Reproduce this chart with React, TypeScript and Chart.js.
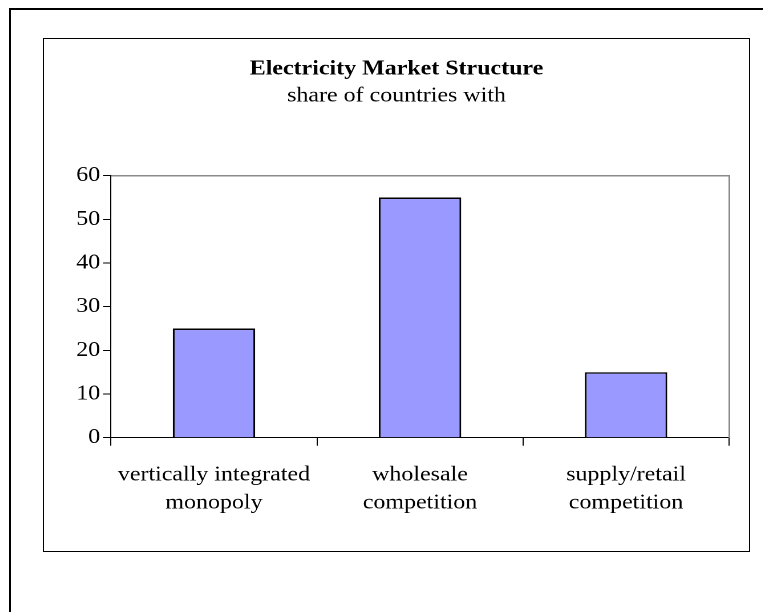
import React, { useEffect, useRef } from "react";
import { Chart, registerables } from "chart.js";

Chart.register(...registerables);

const categories: string[][] = [
  ["vertically integrated", "monopoly"],
  ["wholesale", "competition"],
  ["supply/retail", "competition"],
];
const shares: number[] = [25, 55, 15];
const yMin = 0;
const yMax = 60;
const yStep = 10;
const titleText = "Electricity Market Structure";
const subtitleText = "share of countries with";

const FONT = "'Liberation Serif', 'Times New Roman', Times, serif";
const FS = 21;
const BOX_W = 705;
const BOX_H = 512;
const CANVAS_W = 618;
const CANVAS_H = 512;

export default function App() {
  const ref = useRef<HTMLCanvasElement | null>(null);

  useEffect(() => {
    const canvas = ref.current;
    if (!canvas) return;
    const chart = new Chart(canvas, {
      type: "bar",
      data: {
        labels: categories,
        datasets: [
          {
            data: shares,
            backgroundColor: "#9999FF",
            borderColor: "#000000",
            borderWidth: 1.6,
            categoryPercentage: 1,
            barPercentage: 0.4,
          },
        ],
      },
      options: {
        responsive: false,
        animation: false,
        devicePixelRatio: 2,
        layout: { padding: 0 },
        plugins: {
          legend: { display: false },
          tooltip: { enabled: false },
          title: {
            display: true,
            text: titleText,
            color: "#000",
            font: { family: FONT, size: FS, weight: "bold", lineHeight: 1.2 },
            padding: { top: 17.3, bottom: 2.1 },
          },
          subtitle: {
            display: true,
            text: subtitleText,
            color: "#000",
            font: { family: FONT, size: FS, weight: "normal", lineHeight: 1.2 },
            padding: { top: 0, bottom: 66.9 },
          },
        },
        scales: {
          x: {
            type: "category",
            position: "bottom",
            grid: {
              offset: true,
              drawOnChartArea: false,
              color: "#000",
              tickLength: 8,
              tickWidth: 1,
            },
            border: { display: true, color: "#000", width: 1 },
            ticks: {
              color: "#000",
              font: { family: FONT, size: FS, lineHeight: 28 / FS },
              padding: 15.5,
              maxRotation: 0,
              minRotation: 0,
              autoSkip: false,
            },
            afterFit: (s: any) => {
              s.height = 113.3;
            },
          },
          xTop: {
            type: "category",
            position: "top",
            labels: ["", "", ""],
            grid: { display: false, drawTicks: false },
            ticks: { display: false },
            border: { display: true, color: "#8a8a8a", width: 1.5 },
            afterFit: (s: any) => {
              s.height = 0;
            },
          },
          y: {
            type: "linear",
            position: "left",
            min: yMin,
            max: yMax,
            ticks: {
              stepSize: yStep,
              color: "#000",
              font: { family: FONT, size: FS, lineHeight: 1.2 },
              padding: 2.5,
            },
            grid: {
              drawOnChartArea: false,
              color: "#000",
              tickLength: 7,
              tickWidth: 1,
            },
            border: { display: true, color: "#000", width: 1 },
            afterFit: (s: any) => {
              s.width = 58.7;
            },
          },
          yRight: {
            type: "linear",
            position: "right",
            min: yMin,
            max: yMax,
            grid: { display: false, drawTicks: false },
            ticks: { display: false },
            border: { display: true, color: "#8a8a8a", width: 1.5 },
            afterFit: (s: any) => {
              s.width = 17.5;
            },
          },
        },
      } as any,
    });
    return () => chart.destroy();
  }, []);

  return (
    <div
      style={{
        position: "absolute",
        left: 0,
        top: 0,
        width: 763,
        height: 612,
        overflow: "hidden",
        background: "#fff",
      }}
    >
      <div
        style={{
          position: "absolute",
          left: 9,
          top: 8,
          width: 900,
          height: 800,
          borderLeft: "2px solid #000",
          borderTop: "2px solid #000",
        }}
      />
      <div
        style={{
          position: "absolute",
          left: 43,
          top: 38,
          width: BOX_W,
          height: BOX_H,
          border: "1px solid #000",
          background: "#fff",
        }}
      >
        <canvas
          ref={ref}
          width={CANVAS_W}
          height={CANVAS_H}
          style={{
            position: "absolute",
            left: 0,
            top: 0,
            width: BOX_W + "px",
            height: BOX_H + "px",
          }}
        />
      </div>
    </div>
  );
}
